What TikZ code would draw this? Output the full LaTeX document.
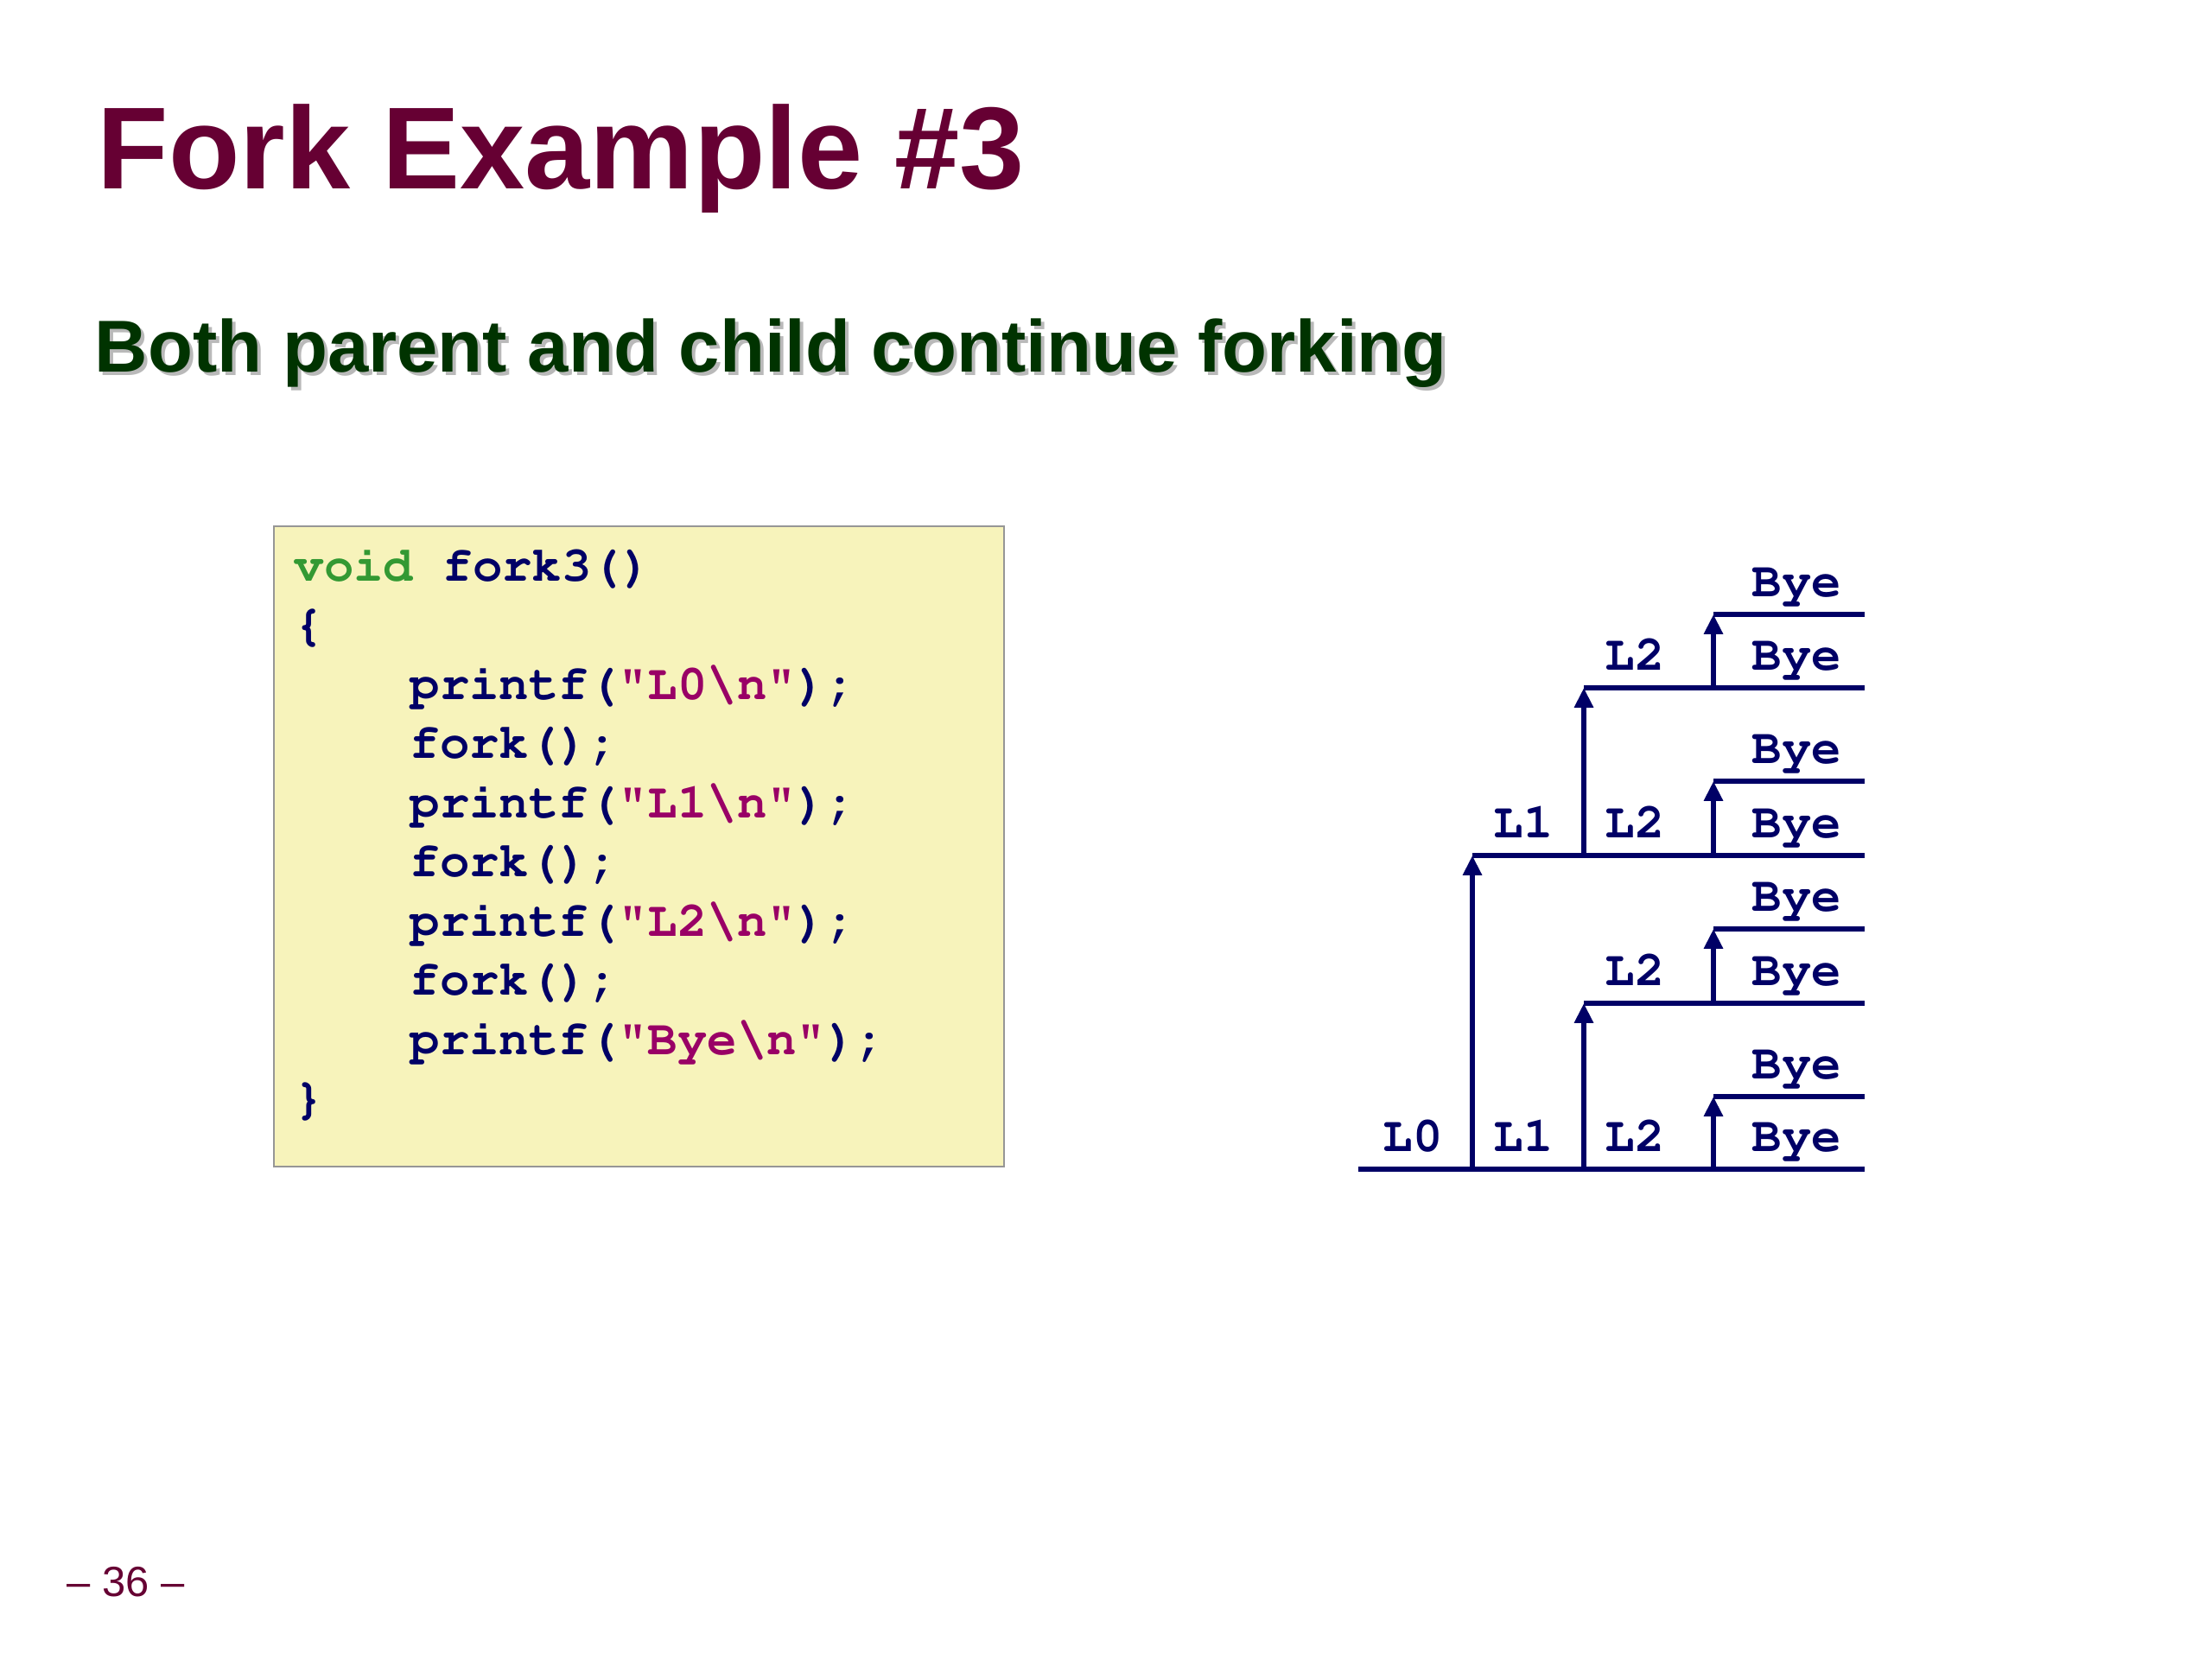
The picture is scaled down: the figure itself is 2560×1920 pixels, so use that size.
\documentclass[tikz,border=0pt]{standalone}
\usepackage[T1]{fontenc}
\usepackage{fontspec}
\setmainfont{Liberation Sans}
\newcommand{\codefont}{\fontencoding{T1}\fontfamily{pcr}\selectfont}
\usetikzlibrary{arrows.meta}

\definecolor{titlered}{RGB}{102,0,51}
\definecolor{subgreen}{RGB}{0,51,0}
\definecolor{shadowgray}{RGB}{185,185,185}
\definecolor{codeblue}{RGB}{0,0,102}
\definecolor{keygreen}{RGB}{51,153,51}
\definecolor{strred}{RGB}{153,0,102}
\definecolor{boxyellow}{RGB}{247,243,187}
\definecolor{boxgray}{RGB}{150,150,150}

\newcommand{\str}[1]{\textcolor{strred}{#1}}

\tikzset{
  code/.style={anchor=base west, inner sep=0pt, text=codeblue,
    font=\codefont\bfseries\fontsize{16.3}{19.4}\selectfont},
  subtitle/.style={anchor=base west, inner sep=0pt, text=subgreen,
    font=\bfseries\fontsize{24.2}{29}\selectfont},
  proc/.style={draw=codeblue, line width=1.6pt},
  fork/.style={proc, -{Triangle[length=6.5pt,width=6pt]}},
}

\begin{document}
\begin{tikzpicture}[x=0.01cm, y=-0.01cm]
  \useasboundingbox[fill=white] (0,0) rectangle (2560,1920);

  % titolo
  \node[anchor=base west, inner sep=0pt, text=titlered,
    font=\bfseries\fontsize{38.4}{46}\selectfont] (title) at (112,218) {Fork Example \#3};
  \node[subtitle, text=shadowgray] (subshadow) at (113,434) {Both parent and child continue forking};
  \node[subtitle] (sub) at (109,430) {Both parent and child continue forking};

  % riquadro del codice
  \draw[draw=boxgray, fill=boxyellow, line width=0.6pt] (317,609) rectangle (1162,1350);
  \node[code] (c0) at (340,672) {\textcolor{keygreen}{void} fork3()};
  \node[code] (c1) at (340,740.5) {\{};
  \node[code] (c2) at (474,809) {printf(\str{"L0\textbackslash n"});};
  \node[code] (c3) at (474,877.5) {fork();};
  \node[code] (c4) at (474,946) {printf(\str{"L1\textbackslash n"});};
  \node[code] (c5) at (474,1014.5) {fork();};
  \node[code] (c6) at (474,1083) {printf(\str{"L2\textbackslash n"});};
  \node[code] (c7) at (474,1151.5) {fork();};
  \node[code] (c8) at (474,1220) {printf(\str{"Bye\textbackslash n"});};
  \node[code] (c9) at (340,1288.5) {\}};

  % processo iniziale
  \coordinate (start) at (1572,1353);
  \coordinate (end) at (2158,1353);
  \draw[proc] (start) -- (end);

  % primo fork
  \coordinate (fa) at (1704,1353);
  \coordinate (ta) at (1704,990);
  \draw[fork] (fa) -- (ta);
  \draw[proc] (ta) -- (ta -| end);

  % secondo fork
  \coordinate (fb) at (1833,1353);
  \coordinate (tb) at (1833,1161);
  \coordinate (fc) at (1833,990);
  \coordinate (tc) at (1833,796);
  \draw[fork] (fb) -- (tb);
  \draw[proc] (tb) -- (tb -| end);
  \draw[fork] (fc) -- (tc);
  \draw[proc] (tc) -- (tc -| end);

  % terzo fork
  \coordinate (fd) at (1983,1353);
  \coordinate (td) at (1983,1269);
  \coordinate (fe) at (1983,1161);
  \coordinate (te) at (1983,1075);
  \coordinate (ff) at (1983,990);
  \coordinate (tf) at (1983,904);
  \coordinate (fg) at (1983,796);
  \coordinate (tg) at (1983,711);
  \draw[fork] (fd) -- (td);
  \draw[proc] (td) -- (td -| end);
  \draw[fork] (fe) -- (te);
  \draw[proc] (te) -- (te -| end);
  \draw[fork] (ff) -- (tf);
  \draw[proc] (tf) -- (tf -| end);
  \draw[fork] (fg) -- (tg);
  \draw[proc] (tg) -- (tg -| end);

  % etichette
  \node[code] (l0) at (1600,1332) {L0};
  \node[code] (l1a) at (1728,1332) {L1};
  \node[code] (l1b) at (1728,969) {L1};
  \node[code] (l2a) at (1857,1332) {L2};
  \node[code] (l2b) at (1857,1140) {L2};
  \node[code] (l2c) at (1857,969) {L2};
  \node[code] (l2d) at (1857,775) {L2};
  \node[code] (bye1) at (2027,1332) {Bye};
  \node[code] (bye2) at (2027,1248) {Bye};
  \node[code] (bye3) at (2027,1140) {Bye};
  \node[code] (bye4) at (2027,1054) {Bye};
  \node[code] (bye5) at (2027,969) {Bye};
  \node[code] (bye6) at (2027,883) {Bye};
  \node[code] (bye7) at (2027,775) {Bye};
  \node[code] (bye8) at (2027,690) {Bye};

  % numero di pagina
  \node[anchor=base west, inner sep=0pt, text=titlered,
    font=\fontsize{13.9}{16}\selectfont] (page) at (77,1847) {\textendash{} 36 \textendash};
\end{tikzpicture}
\end{document}
